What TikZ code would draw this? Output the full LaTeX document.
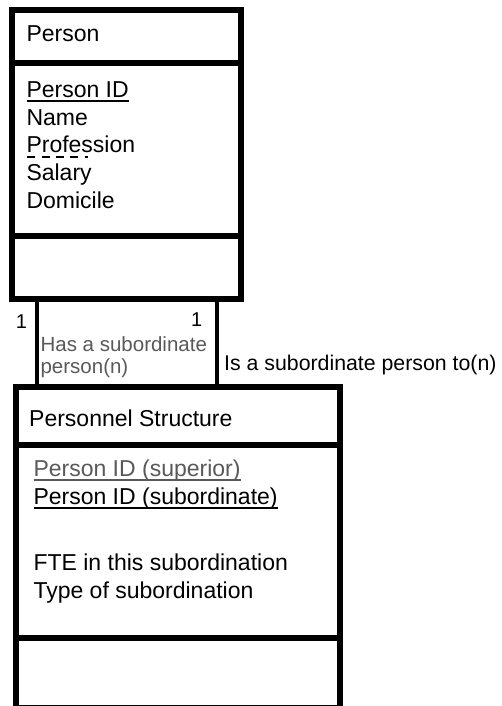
\documentclass[tikz,border=0pt]{standalone}
\usepackage{fontspec}
\setmainfont{Liberation Sans}
\usetikzlibrary{positioning}

\definecolor{rolegray}{HTML}{595959}

\newsavebox{\keybox}
% key attribute: solid rule under the name
\newcommand{\pk}[1]{\sbox{\keybox}{#1}\rlap{\rule[-4.5pt]{\wd\keybox}{2pt}}\usebox{\keybox}}
% dashed rule under the start of a name
\newcommand{\dashseg}[1]{\rule[-5pt]{#1}{2pt}\hskip6.3pt}
\newcommand{\fk}[1]{\rlap{\hskip1pt\dashseg{8pt}\dashseg{8pt}\dashseg{8pt}\dashseg{8pt}\dashseg{3.3pt}}#1}

\begin{document}
\begin{tikzpicture}[
    x=1pt, y=-1pt,
    compart/.style={draw, line width=6pt, rectangle, inner sep=0pt},
    entity/.style={font=\fontsize{23pt}{27.7pt}\selectfont, inner sep=0pt, anchor=base west},
    attrs/.style={font=\fontsize{23pt}{27.7pt}\selectfont, inner sep=0pt, align=left, anchor=north west},
    role/.style={font=\fontsize{20.5pt}{21.5pt}\selectfont, inner sep=0pt, align=left},
    card/.style={font=\fontsize{20pt}{20pt}\selectfont, inner sep=0pt, anchor=base west},
    link/.style={line width=4.5pt}
]
\useasboundingbox (0,0) rectangle (501,706);
\clip (0,0) rectangle (501,706);

% Person entity
\node[compart, minimum width=229pt, minimum height=53pt, anchor=north west] (person) at (9,7) {};
\node[compart, minimum width=229pt, minimum height=173pt, below=-6pt of person] (personattr) {};
\node[compart, minimum width=229pt, minimum height=63pt, below=-6pt of personattr] (personops) {};

\node[entity] (persontitle) at (26.3,41.7) {Person};
\node[attrs] (personlist) at (26.3,81.4) {\pk{Person ID}\\Name\\\fk{Profession}\\Salary\\Domicile};

% Personnel Structure entity
\node[compart, minimum width=323.5pt, minimum height=58pt, anchor=north west] (struct) at (13,383.5) {};
\node[compart, minimum width=323.5pt, minimum height=193.5pt, below=-6pt of struct] (structattr) {};
\node[compart, minimum width=323.5pt, minimum height=69.5pt, below=-6pt of structattr] (structops) {};

\node[entity] (structtitle) at (29,426) {Personnel Structure};
\node[attrs] (structlist) at (33.3,459.7) {\textcolor{rolegray}{\pk{Person ID (superior)}}\\\pk{Person ID (subordinate)}\\[39pt]FTE in this subordination\\Type of subordination};

% Relationship lines
\coordinate (hasend) at ([xshift=28pt]personops.south west);
\coordinate (isend) at ([xshift=-27pt]personops.south east);
\draw[link] (hasend) -- (hasend |- struct.north);
\draw[link] (isend) -- (isend |- struct.north);

\node[card] (cardleft) at (15.8,328) {1};
\node[card] (cardright) at (190.8,326) {1};
\node[role, anchor=north west, text=rolegray] (hasrole) at (40.4,336.7) {Has a subordinate\\person(n)};
\node[role, anchor=base west, font=\fontsize{21.3pt}{22pt}\selectfont] (isrole) at (224,370) {Is a subordinate person to(n)};

\end{tikzpicture}
\end{document}
